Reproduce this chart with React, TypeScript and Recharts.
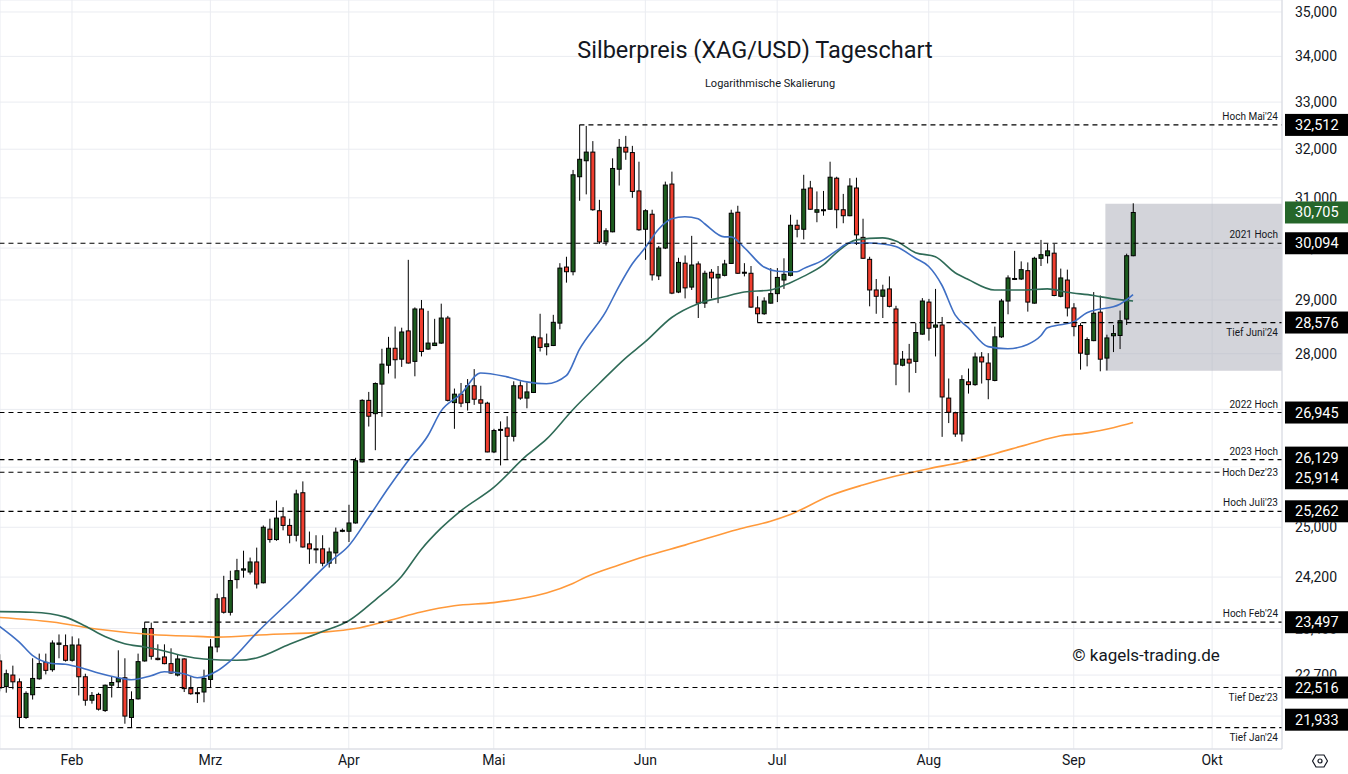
import React from 'react';
import {
  ComposedChart,
  Bar,
  Line,
  XAxis,
  YAxis,
  CartesianGrid,
  ReferenceLine,
  ReferenceArea,
} from 'recharts';

// daily OHLC, one entry per trading day starting 17 Jan 2024
const opens = [
  22.91, 22.53, 22.70, 22.60, 22.08, 22.41, 22.645, 22.89, 22.78, 23.16,
  23.14, 22.92, 23.15, 22.675, 22.33, 22.415, 22.18, 22.55, 22.60, 22.66,
  22.08, 22.35, 22.91, 23.40, 22.95, 22.97, 22.87, 22.70, 22.94, 22.50,
  22.44, 22.45, 22.635, 23.12, 23.875, 23.65, 24.16, 24.31, 24.28, 24.44,
  24.11, 24.97, 24.80, 25.17, 25.03, 24.87, 25.57, 24.73, 24.65, 24.65,
  24.42, 24.585, 24.94, 24.935, 25.07, 26.09, 27.16, 26.925, 27.45, 27.79,
  28.10, 27.90, 28.42, 27.86, 28.83, 28.085, 28.15, 28.195, 28.66, 27.12,
  27.27, 27.12, 27.42, 27.17, 27.11, 26.26, 26.64, 26.675, 26.53, 27.42,
  27.20, 27.30, 28.29, 28.13, 28.15, 28.565, 29.63, 29.54, 31.43, 31.76,
  31.94, 30.74, 30.12, 30.32, 31.585, 32.04, 31.93, 31.14, 30.37, 30.67,
  29.46, 30.00, 31.28, 29.15, 29.705, 29.245, 29.69, 28.94, 29.53, 29.42,
  29.47, 29.70, 30.71, 29.52, 29.51, 28.85, 28.74, 28.94, 29.12, 29.38,
  29.47, 30.45, 30.37, 31.20, 30.71, 30.75, 30.77, 31.40, 30.76, 30.64,
  31.20, 30.21, 29.78, 29.19, 29.07, 29.21, 28.83, 27.79, 27.90, 27.86,
  28.36, 28.96, 28.49, 28.53, 27.20, 26.94, 26.57, 27.49, 27.44, 27.94,
  27.83, 27.515, 28.31, 28.98, 29.40, 29.40, 29.56, 28.94, 29.80, 29.85,
  29.90, 29.07, 29.38, 28.85, 28.52, 27.99, 28.24, 28.77, 27.92, 28.33,
  28.335, 28.64, 29.85,
];
const highs = [
  23.01, 22.78, 22.84, 22.65, 22.46, 22.95, 23.02, 23.02, 23.22, 23.31,
  23.31, 23.28, 23.25, 22.72, 22.45, 22.44, 22.56, 22.685, 23.07, 22.95,
  22.46, 23.02, 23.497, 23.49, 23.16, 23.16, 23.10, 23.01, 22.95, 22.685,
  22.52, 22.78, 23.24, 23.94, 24.22, 24.30, 24.49, 24.62, 24.51, 24.67,
  25.03, 25.14, 25.44, 25.33, 25.14, 25.62, 25.76, 24.93, 24.87, 24.87,
  24.67, 24.995, 24.98, 25.37, 26.16, 27.18, 27.31, 27.48, 28.09, 28.31,
  28.50, 28.48, 29.77, 28.86, 29.00, 28.795, 28.645, 28.93, 28.70, 27.37,
  27.47, 27.54, 27.72, 27.42, 27.135, 26.66, 26.79, 26.88, 27.50, 27.50,
  27.48, 28.33, 28.74, 28.37, 28.72, 29.705, 29.83, 31.57, 32.512, 32.49,
  32.17, 30.96, 30.39, 31.81, 32.215, 32.28, 32.07, 31.74, 30.77, 30.76,
  30.04, 31.33, 31.535, 29.81, 29.855, 30.24, 29.74, 29.56, 29.59, 29.65,
  29.77, 30.76, 30.84, 29.705, 29.65, 29.07, 29.05, 29.61, 29.61, 29.80,
  30.66, 30.56, 31.47, 31.345, 31.13, 31.14, 31.74, 31.43, 31.08, 31.40,
  31.41, 30.58, 29.83, 29.40, 29.29, 29.45, 28.89, 28.05, 28.18, 28.565,
  29.035, 29.02, 29.21, 28.68, 27.55, 26.96, 27.61, 27.73, 28.02, 28.03,
  28.01, 28.50, 29.02, 29.47, 29.945, 29.74, 29.72, 29.83, 30.16, 30.08,
  30.08, 29.60, 29.58, 28.94, 28.565, 28.30, 29.15, 29.085, 28.35, 28.53,
  28.80, 29.89, 30.89,
];
const lows = [
  22.46, 22.44, 22.49, 21.933, 22.06, 22.34, 22.63, 22.71, 22.75, 22.95,
  22.90, 22.90, 22.40, 22.25, 22.28, 22.18, 22.16, 22.37, 22.52, 21.99,
  21.94, 22.34, 22.90, 22.93, 22.92, 22.86, 22.72, 22.68, 22.45, 22.41,
  22.29, 22.30, 22.51, 23.04, 23.63, 23.60, 24.02, 24.19, 24.24, 24.02,
  24.10, 24.75, 24.78, 24.95, 24.74, 24.77, 24.67, 24.41, 24.42, 24.37,
  24.35, 24.41, 24.92, 24.76, 25.06, 26.08, 26.70, 26.29, 26.87, 27.64,
  27.55, 27.76, 27.82, 27.59, 27.95, 28.07, 28.14, 28.18, 27.14, 26.66,
  27.04, 26.98, 27.08, 26.95, 26.255, 26.24, 26.03, 26.13, 26.44, 27.17,
  27.02, 27.29, 28.04, 27.97, 28.14, 28.45, 29.33, 29.47, 30.94, 31.07,
  30.74, 30.08, 30.05, 30.31, 31.25, 31.78, 31.00, 30.34, 29.77, 29.37,
  29.38, 29.98, 29.11, 29.13, 29.03, 29.19, 28.66, 28.85, 29.03, 28.94,
  29.45, 29.69, 29.50, 29.45, 28.85, 28.576, 28.72, 28.93, 28.96, 29.21,
  29.45, 30.21, 30.17, 30.76, 30.51, 30.64, 30.76, 30.39, 30.49, 30.63,
  30.06, 29.79, 28.88, 28.74, 28.66, 28.86, 27.43, 27.77, 27.30, 27.65,
  28.35, 28.24, 27.95, 26.52, 26.76, 26.52, 26.44, 27.28, 27.42, 27.46,
  27.18, 27.50, 28.29, 28.73, 29.38, 29.38, 28.78, 28.93, 29.65, 29.70,
  29.07, 29.05, 28.69, 28.32, 27.71, 27.77, 28.23, 27.68, 27.695, 28.03,
  28.085, 28.53, 29.84,
];
const closes = [
  22.51, 22.72, 22.60, 22.08, 22.43, 22.65, 22.87, 22.77, 23.18, 23.18,
  22.92, 23.15, 22.675, 22.33, 22.40, 22.20, 22.55, 22.59, 22.65, 22.10,
  22.34, 22.90, 23.40, 22.98, 22.93, 22.87, 22.73, 22.94, 22.50, 22.425,
  22.435, 22.65, 23.12, 23.86, 23.65, 24.145, 24.30, 24.33, 24.44, 24.09,
  25.00, 24.80, 25.15, 25.03, 24.87, 25.55, 24.68, 24.65, 24.64, 24.42,
  24.60, 24.92, 24.95, 25.07, 26.11, 27.16, 26.88, 27.46, 27.81, 28.10,
  27.89, 28.40, 27.83, 28.83, 28.04, 28.195, 28.195, 28.66, 27.16, 27.27,
  27.11, 27.42, 27.18, 27.11, 26.26, 26.63, 26.65, 26.53, 27.42, 27.20,
  27.31, 28.31, 28.115, 28.18, 28.58, 29.61, 29.54, 31.47, 31.79, 31.94,
  30.76, 30.12, 30.34, 31.60, 32.04, 31.94, 31.13, 30.36, 30.74, 29.48,
  30.00, 31.26, 29.13, 29.72, 29.23, 29.67, 28.94, 29.51, 29.42, 29.49,
  29.69, 30.69, 29.51, 29.53, 28.865, 28.74, 28.98, 29.12, 29.43, 29.49,
  30.45, 30.37, 31.175, 30.77, 30.76, 30.76, 31.42, 30.76, 30.64, 31.24,
  30.26, 29.80, 29.19, 29.07, 29.19, 28.88, 27.81, 27.90, 27.83, 28.39,
  28.98, 28.47, 28.53, 27.22, 26.95, 26.57, 27.53, 27.44, 27.94, 27.85,
  27.53, 28.31, 28.98, 29.42, 29.41, 29.58, 28.96, 29.80, 29.87, 29.945,
  29.085, 29.42, 28.85, 28.50, 28.01, 28.26, 28.75, 27.90, 28.29, 28.37,
  28.61, 29.85, 30.705,
];

// moving averages (day index -> value)
const sma20Days = [0, 3, 5, 8, 10, 13, 15, 18, 20, 23, 25, 28, 30, 33, 35, 39, 45, 50, 53, 56, 59, 62, 65, 67, 70, 73, 77, 80, 83, 86, 88, 92, 94, 96, 98, 100, 102, 104, 106, 107, 110, 111, 113, 116, 118, 121, 122, 125, 127, 129, 132, 134, 136, 139, 141, 143, 145, 147, 150, 153, 156, 158, 159, 161, 163, 165, 167, 169, 170, 172];
const sma20 = [23.435, 23.194, 22.995, 22.873, 22.86, 22.79, 22.73, 22.66, 22.63, 22.69, 22.75, 22.72, 22.66, 22.76, 22.909, 23.33, 23.915, 24.43, 24.70, 25.16, 25.65, 26.11, 26.54, 26.97, 27.27, 27.65, 27.58, 27.49, 27.455, 27.60, 28.08, 28.78, 29.26, 29.69, 30.01, 30.37, 30.58, 30.62, 30.58, 30.48, 30.22, 30.22, 30.01, 29.63, 29.55, 29.54, 29.60, 29.77, 29.95, 30.10, 30.10, 30.08, 30.03, 29.80, 29.64, 29.28, 28.72, 28.48, 28.13, 28.09, 28.17, 28.33, 28.48, 28.535, 28.59, 28.76, 28.83, 28.87, 28.92, 29.10];
const sma50Days = [0, 5, 10, 13, 16, 19, 22, 25, 28, 31, 36, 39, 44, 49, 53, 57, 61, 64, 67, 70, 75, 80, 83, 87, 91, 95, 98, 102, 106, 110, 113, 117, 120, 122, 125, 127, 130, 134, 136, 139, 142, 145, 147, 151, 155, 159, 162, 166, 169, 172];
const sma50 = [23.66, 23.65, 23.575, 23.44, 23.28, 23.17, 23.12, 23.06, 22.985, 22.94, 22.92, 22.955, 23.16, 23.355, 23.52, 23.84, 24.21, 24.64, 24.985, 25.27, 25.66, 26.20, 26.48, 26.995, 27.46, 27.92, 28.22, 28.67, 28.93, 29.06, 29.15, 29.19, 29.33, 29.45, 29.67, 29.91, 30.16, 30.20, 30.14, 29.91, 29.83, 29.52, 29.39, 29.19, 29.19, 29.21, 29.145, 29.085, 29.02, 28.98];
const sma200Days = [0, 8, 15, 23, 30, 33, 41, 49, 54, 59, 64, 69, 75, 79, 83, 87, 89, 94, 98, 104, 112, 117, 120, 126, 131, 136, 141, 146, 151, 156, 161, 165, 169, 172];
const sma200 = [23.57, 23.50, 23.39, 23.31, 23.28, 23.27, 23.31, 23.345, 23.40, 23.52, 23.655, 23.75, 23.80, 23.86, 23.95, 24.10, 24.20, 24.39, 24.53, 24.71, 24.965, 25.10, 25.21, 25.52, 25.70, 25.85, 25.975, 26.085, 26.23, 26.39, 26.54, 26.59, 26.68, 26.77];

const monthTicks = [11, 32, 53, 75, 98, 118, 141, 163, 184];
const monthLabels = ['Feb', 'Mrz', 'Apr', 'Mai', 'Jun', 'Jul', 'Aug', 'Sep', 'Okt'];
const priceTicks = [22.1, 22.7, 23.4, 24.2, 25, 26, 27, 28, 29, 30, 31, 32, 33, 34, 35];

const levelValues = [32.512, 30.094, 28.576, 26.945, 26.129, 25.914, 25.262, 23.497, 22.516, 21.933];
const levelNames = ["Hoch Mai'24", '2021 Hoch', "Tief Juni'24", '2022 Hoch', '2023 Hoch', "Hoch Dez'23", "Hoch Juli'23", "Hoch Feb'24", "Tief Dez'23", "Tief Jan'24"];
const levelFrom = [88, 0, 115, 0, 0, 0, 0, 22, 0, 3];
const levelLabelPos = ['above', 'above', 'below', 'above', 'above', 'inline', 'above', 'above', 'below', 'below'];
const boxNudge = [0, 0, 0, 0, -2, 6, 0, 0, 0, -8];

const lastPrice = 30.705;
const zoneLow = 27.69;
const zoneHigh = 30.88;
const zoneFrom = 167.8;

const xMin = 0.08;
const xMax = 194.6;
const yMin = 21.63;
const yMax = 35.275;
const plotHeight = 749;

const fmt = (v: number) => v.toFixed(3).replace('.', ',');

const rows: any[] = Array.from({ length: 195 }, (_, i) => {
  const r: any = { i };
  if (i < opens.length) {
    r.o = opens[i];
    r.h = highs[i];
    r.l = lows[i];
    r.c = closes[i];
    r.range = [lows[i], highs[i]];
  }
  return r;
});
sma20Days.forEach((d, k) => (rows[d].sma20 = sma20[k]));
sma50Days.forEach((d, k) => (rows[d].sma50 = sma50[k]));
sma200Days.forEach((d, k) => (rows[d].sma200 = sma200[k]));

const Candle = (props: any) => {
  const { x, y, width, height, payload } = props;
  if (!payload || payload.o == null || !isFinite(y)) return null;
  const cx = x + width / 2;
  const top = Math.min(y, y + height);
  const bottom = Math.max(y, y + height);
  const lh = Math.log(payload.h);
  const ll = Math.log(payload.l);
  const toY = (v: number) => top + ((lh - Math.log(v)) / (lh - ll)) * (bottom - top);
  const yo = toY(payload.o);
  const yc = toY(payload.c);
  const up = payload.c >= payload.o;
  const bodyTop = Math.min(yo, yc);
  const bodyH = Math.max(Math.abs(yc - yo), 1);
  return (
    <g>
      <line x1={cx} x2={cx} y1={top} y2={bottom} stroke="#000" strokeWidth={1} />
      <rect x={cx - 2} y={bodyTop} width={4} height={bodyH} fill={up ? '#1d5c1f' : '#f03e2f'} stroke="#000" strokeWidth={1} />
    </g>
  );
};

// y-axis tick that is hidden (fully or partly) behind the level price boxes
const pxPerLog = plotHeight / Math.log(yMax / yMin);
const PriceTick = (props: any) => {
  const { x, y, payload } = props;
  const v = payload.value;
  // pixel rows covered by the boxes, relative to this tick
  const covers = levelValues.map((lv, k) => {
    const ly = y + (Math.log(v) - Math.log(lv)) * pxPerLog + boxNudge[k];
    return [ly - 11, ly + 11];
  });
  const lastY = y + (Math.log(v) - Math.log(lastPrice)) * pxPerLog;
  covers.push([lastY - 11, lastY + 11]);
  const textTop = y - 7;
  const textBottom = y + 7;
  let clipTop = textTop - 2;
  let clipBottom = textBottom + 2;
  for (const [a, b] of covers) {
    if (a <= textTop && b >= textBottom) return null;
    if (a > textTop && a < textBottom && b >= textBottom) clipBottom = Math.min(clipBottom, a);
    if (b > textTop && b < textBottom && a <= textTop) clipTop = Math.max(clipTop, b);
  }
  const id = `tclip-${String(v).replace('.', '-')}`;
  return (
    <g>
      <clipPath id={id}>
        <rect x={x - 2} y={clipTop} width={70} height={Math.max(clipBottom - clipTop, 0)} />
      </clipPath>
      <text x={x} y={y + 5} fontSize={14} fill="#131722" fontFamily="Roboto, sans-serif" textAnchor="start" clipPath={`url(#${id})`}>
        {fmt(v)}
      </text>
    </g>
  );
};

const PriceBox = ({ left, y, value, color }: any) => (
  <g>
    <rect x={left + 3} y={y - 11} width={64} height={22} fill={color} />
    <text x={left + 13} y={y + 5} fill="#fff" fontSize={14.5} fontFamily="Roboto, sans-serif">
      {fmt(value)}
    </text>
  </g>
);

const LevelLabel = (props: any) => {
  const { viewBox, name, value, pos, nudge } = props;
  if (!viewBox) return null;
  const right = viewBox.x + viewBox.width;
  const y = viewBox.y;
  const ty = pos === 'above' ? y - 5 : pos === 'below' ? y + 13 : y + 3.5;
  return (
    <g>
      {pos === 'inline' && <rect x={right - 60} y={y - 5} width={60} height={10} fill="#fff" />}
      <text x={right - 4} y={ty} textAnchor="end" fontSize={10} fill="#131722" fontFamily="Roboto, sans-serif">
        {name}
      </text>
      <PriceBox left={right} y={y + nudge} value={value} color="#000" />
    </g>
  );
};

const LastLabel = (props: any) => {
  const { viewBox, value } = props;
  if (!viewBox) return null;
  return <PriceBox left={viewBox.x + viewBox.width} y={viewBox.y} value={value} color="#25662a" />;
};

const App = () => {
  return (
    <div style={{ position: 'absolute', left: 0, top: 0, width: 1348, height: 774, background: '#fff', fontFamily: 'Roboto, sans-serif', color: '#131722' }}>
      <ComposedChart width={1348} height={774} data={rows} margin={{ top: 0, right: 0, bottom: 0, left: 0 }}>
        <CartesianGrid stroke="#eaecf1" strokeWidth={1} />
        <XAxis
          type="number"
          dataKey="i"
          domain={[xMin, xMax]}
          allowDataOverflow
          ticks={monthTicks}
          interval={0}
          tickFormatter={(v: number) => monthLabels[monthTicks.indexOf(v)]}
          height={25}
          tickLine={false}
          tickSize={6}
          tickMargin={0}
          axisLine={{ stroke: '#d6d9e0' }}
          tick={{ fontSize: 14, fill: '#131722', fontFamily: 'Roboto, sans-serif' }}
        />
        <YAxis
          orientation="right"
          scale="log"
          domain={[yMin, yMax]}
          allowDataOverflow
          ticks={priceTicks}
          interval={0}
          width={66}
          tickLine={false}
          tickSize={6}
          tickMargin={7}
          axisLine={{ stroke: '#d6d9e0' }}
          tick={(p: any) => <PriceTick {...p} />}
        />
        <ReferenceArea x1={zoneFrom} x2={xMax} y1={zoneLow} y2={zoneHigh} fill="#aeb0bc" fillOpacity={0.55} stroke="none" ifOverflow="visible" />
        <Bar dataKey="range" barSize={5} isAnimationActive={false} shape={(p: any) => <Candle {...p} />} />
        <Line type="monotone" dataKey="sma200" stroke="#ff993a" strokeWidth={1.6} dot={false} connectNulls isAnimationActive={false} />
        <Line type="monotone" dataKey="sma50" stroke="#2f6b57" strokeWidth={1.6} dot={false} connectNulls isAnimationActive={false} />
        <Line type="monotone" dataKey="sma20" stroke="#3f6fc4" strokeWidth={1.6} dot={false} connectNulls isAnimationActive={false} />
        {levelValues.map((v, k) => (
          <ReferenceLine
            key={levelNames[k]}
            ifOverflow="visible"
            segment={[{ x: levelFrom[k], y: v }, { x: xMax, y: v }]}
            stroke="#000"
            strokeWidth={1.2}
            strokeDasharray="5 4"
            label={<LevelLabel name={levelNames[k]} value={v} pos={levelLabelPos[k]} nudge={boxNudge[k]} />}
          />
        ))}
        <ReferenceLine
          ifOverflow="visible"
          segment={[{ x: 172, y: lastPrice }, { x: xMax, y: lastPrice }]}
          stroke="none"
          label={<LastLabel value={lastPrice} />}
        />
      </ComposedChart>
      <div style={{ position: 'absolute', left: 755, top: 50, transform: 'translate(-50%, -50%)', fontSize: 23.5, whiteSpace: 'nowrap' }}>
        Silberpreis (XAG/USD) Tageschart
      </div>
      <div style={{ position: 'absolute', left: 770, top: 83, transform: 'translate(-50%, -50%)', fontSize: 11, whiteSpace: 'nowrap' }}>
        Logarithmische Skalierung
      </div>
      <div style={{ position: 'absolute', left: 1146, top: 655, transform: 'translate(-50%, -50%)', fontSize: 17, whiteSpace: 'nowrap' }}>
        © kagels-trading.de
      </div>
      <svg style={{ position: 'absolute', left: 1312, top: 753 }} width={16} height={16} viewBox="0 0 16 16">
        <polygon points="4,2 12,2 15.5,8 12,14 4,14 0.5,8" fill="none" stroke="#131722" strokeWidth={1.2} />
        <circle cx={8} cy={8} r={2} fill="none" stroke="#131722" strokeWidth={1.2} />
      </svg>
    </div>
  );
};

export default App;
